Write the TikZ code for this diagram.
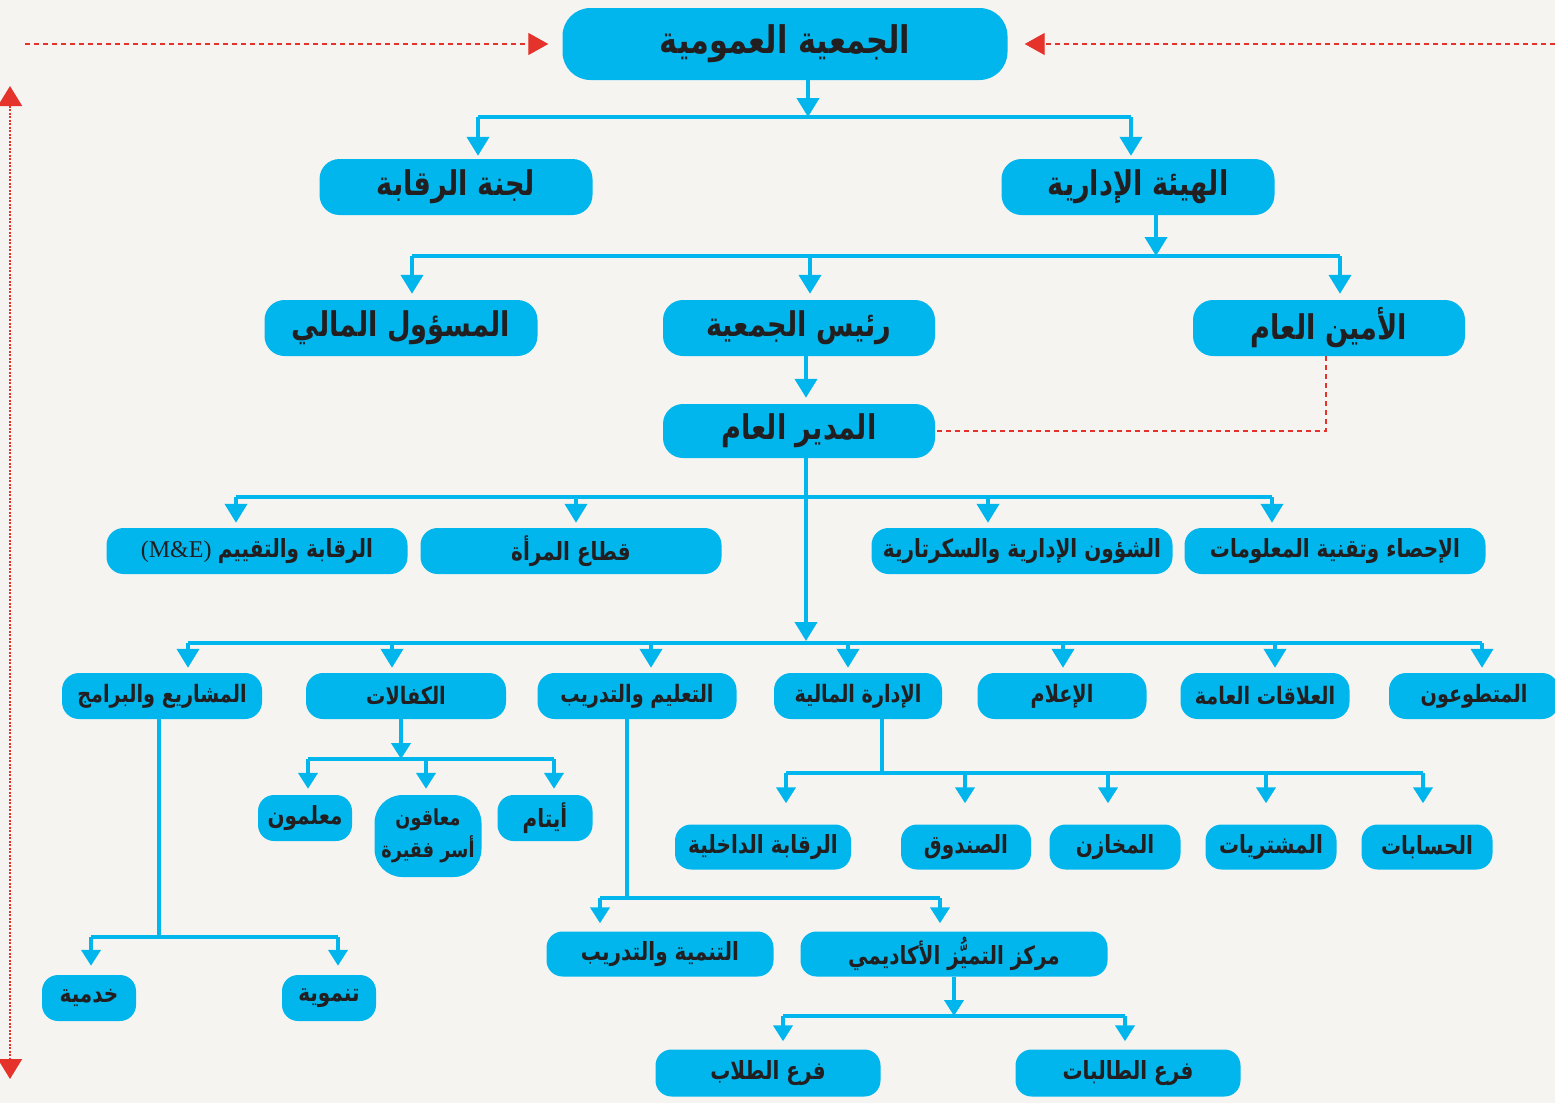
\documentclass[tikz,border=0pt]{standalone}
\usepackage{fontspec}
\usetikzlibrary{arrows.meta}
\TeXXeTstate=1
\setmainfont{Liberation Serif}
\newfontfamily\arabicfont[Script=Arabic,FakeStretch=0.8]{DejaVu Sans}
\newcommand{\ar}[1]{{\arabicfont\bfseries\beginR #1\endR}}

\definecolor{orgblue}{HTML}{00B6EC}
\definecolor{orgred}{HTML}{E5322B}
\definecolor{paper}{HTML}{F5F4F1}
\definecolor{ink}{HTML}{231F20}

\tikzset{
    box/.style={fill=orgblue, text=ink, inner sep=0pt, rounded corners=20pt,
        minimum height=56, font=\fontsize{34}{38}\selectfont},
    midbox/.style={box, rounded corners=17pt, minimum height=46,
        font=\fontsize{25}{29}\selectfont},
    deptbox/.style={midbox, font=\fontsize{24}{28}\selectfont},
    subbox/.style={box, rounded corners=16pt, minimum height=45,
        font=\fontsize{25}{29}\selectfont},
    bar/.style={orgblue, line width=4pt},
    arr/.style={bar, -{Triangle[width=22pt,length=19pt]}},
    subarr/.style={bar, -{Triangle[width=19pt,length=16pt]}},
    reddash/.style={orgred, line width=1.2pt, dash pattern=on 5pt off 4pt},
    redtip/.style={-{Triangle[width=22pt,length=20pt]}}
}

\begin{document}
\begin{tikzpicture}[x=1pt, y=-1pt]

    % paper
    \fill[paper] (0,0) rectangle (1555,1103);
    \useasboundingbox (0,0) rectangle (1555,1103);

    % Top levels
    \node[box, minimum width=445, minimum height=72, rounded corners=28pt,
        font=\fontsize{38}{42}\selectfont] (ga) at (785,44) {\ar{الجمعية العمومية}};
    \node[box, minimum width=273] (lajna) at (456,187) {\ar{لجنة الرقابة}};
    \node[box, minimum width=273] (haia) at (1138,187) {\ar{الهيئة الإدارية}};
    \node[box, minimum width=273] (mali) at (401,328) {\ar{المسؤول المالي}};
    \node[box, minimum width=272] (rais) at (799,328) {\ar{رئيس الجمعية}};
    \node[box, minimum width=272] (amin) at (1329,328) {\ar{الأمين العام}};
    \node[box, minimum width=272, minimum height=54] (mudir) at (799,431) {\ar{المدير العام}};

    % Units under the director
    \node[midbox, minimum width=301] (mne) at (257,551)
        {{\fontsize{24}{27}\selectfont\rmfamily (M\&E)}\ \ar{الرقابة والتقييم}};
    \node[midbox, minimum width=301] (marah) at (571,551) {\ar{قطاع المرأة}};
    \node[midbox, minimum width=301] (shuun) at (1022,551) {\ar{الشؤون الإدارية والسكرتارية}};
    \node[midbox, minimum width=301] (ihsa) at (1335,551) {\ar{الإحصاء وتقنية المعلومات}};

    % Departments
    \node[deptbox, minimum width=200] (mashari) at (162,696) {\ar{المشاريع والبرامج}};
    \node[deptbox, minimum width=200] (kafalat) at (406,696) {\ar{الكفالات}};
    \node[deptbox, minimum width=199] (talim) at (637,696) {\ar{التعليم والتدريب}};
    \node[deptbox, minimum width=168] (idara) at (858,696) {\ar{الإدارة المالية}};
    \node[deptbox, minimum width=169] (ilam) at (1062,696) {\ar{الإعلام}};
    \node[deptbox, minimum width=169] (alaqat) at (1265,696) {\ar{العلاقات العامة}};
    \node[deptbox, minimum width=170] (mutatawi) at (1474,696) {\ar{المتطوعون}};

    % Sponsorships
    \node[subbox, minimum width=94, minimum height=46] (muallim) at (305,818) {\ar{معلمون}};
    \node[subbox, minimum width=107, minimum height=82, rounded corners=28pt,
        align=center, font=\fontsize{22}{32}\selectfont] (muaq) at (428,836)
        {\ar{معاقون}\\\ar{أسر فقيرة}};
    \node[subbox, minimum width=95, minimum height=46] (aytam) at (545,818) {\ar{أيتام}};

    % Finance
    \node[subbox, minimum width=176] (raqdakh) at (763,847) {\ar{الرقابة الداخلية}};
    \node[subbox, minimum width=130] (sunduq) at (966,847) {\ar{الصندوق}};
    \node[subbox, minimum width=131] (makhazin) at (1115,847) {\ar{المخازن}};
    \node[subbox, minimum width=131] (mushtar) at (1271,847) {\ar{المشتريات}};
    \node[subbox, minimum width=131] (hisabat) at (1427,847) {\ar{الحسابات}};

    % Training
    \node[subbox, minimum width=227] (tanmiya) at (660,954) {\ar{التنمية والتدريب}};
    \node[subbox, minimum width=307] (markaz) at (954,954) {\ar{مركز التميُّز الأكاديمي}};
    \node[subbox, minimum width=225, minimum height=47] (tullab) at (768,1073) {\ar{فرع الطلاب}};
    \node[subbox, minimum width=225, minimum height=47] (talibat) at (1128,1073) {\ar{فرع الطالبات}};

    % Projects
    \node[subbox, minimum width=94, minimum height=46] (khadam) at (89,998) {\ar{خدمية}};
    \node[subbox, minimum width=94, minimum height=46] (tanmawi) at (329,998) {\ar{تنموية}};

    % Blue connectors
    \draw[arr] (808,0 |- ga.south) -- (808,117);
    \draw[bar] (478,117) -- (1131,117);
    \foreach \x/\n in {478/lajna, 1131/haia}
        \draw[arr, shorten >=3pt] (\x,117) -- (\x,0 |- \n.north);

    \draw[arr] (1156,0 |- haia.south) -- (1156,256);
    \draw[bar] (412,256) -- (1340,256);
    \foreach \x/\n in {412/mali, 810/rais, 1340/amin}
        \draw[arr, shorten >=6pt] (\x,256) -- (\x,0 |- \n.north);

    \draw[arr, shorten >=6pt] (806,0 |- rais.south) -- (806,0 |- mudir.north);

    \draw[arr] (806,0 |- mudir.south) -- (806,641);
    \draw[bar] (236,497) -- (1272,497);
    \foreach \x/\n in {236/mne, 576/marah, 988/shuun, 1272/ihsa}
        \draw[arr, shorten >=5pt] (\x,497) -- (\x,0 |- \n.north);

    \draw[bar] (188,643) -- (1482,643);
    \foreach \x/\n in {188/mashari, 392/kafalat, 651/talim, 848/idara, 1063/ilam, 1275/alaqat, 1482/mutatawi}
        \draw[arr, shorten >=5pt] (\x,643) -- (\x,0 |- \n.north);

    % Sponsorship branch
    \draw[subarr] (401,0 |- kafalat.south) -- (401,759);
    \draw[bar] (308,759) -- (554,759);
    \foreach \x/\n in {308/muallim, 426/muaq, 554/aytam}
        \draw[subarr, shorten >=6pt] (\x,759) -- (\x,0 |- \n.north);

    % Finance branch
    \draw[bar] (882,0 |- idara.south) -- (882,773);
    \draw[bar] (786,773) -- (1423,773);
    \foreach \x/\n in {786/raqdakh, 965/sunduq, 1108/makhazin, 1266/mushtar, 1423/hisabat}
        \draw[subarr, shorten >=21pt] (\x,773) -- (\x,0 |- \n.north);

    % Training branch
    \draw[bar] (627,0 |- talim.south) -- (627,898);
    \draw[bar] (600,898) -- (940,898);
    \foreach \x/\n in {600/tanmiya, 940/markaz}
        \draw[subarr, shorten >=8pt] (\x,898) -- (\x,0 |- \n.north);
    \draw[subarr] (954,0 |- markaz.south) -- (954,1016);
    \draw[bar] (783,1016) -- (1125,1016);
    \foreach \x/\n in {783/tullab, 1125/talibat}
        \draw[subarr, shorten >=8pt] (\x,1016) -- (\x,0 |- \n.north);

    % Projects branch
    \draw[bar] (159,0 |- mashari.south) -- (159,937);
    \draw[bar] (91,937) -- (338,937);
    \foreach \x/\n in {91/khadam, 338/tanmawi}
        \draw[subarr, shorten >=9pt] (\x,937) -- (\x,0 |- \n.north);

    % Red links
    \coordinate (lend) at (25,44);
    \coordinate (rend) at (1555,44);
    \coordinate (vtop) at (10,86);
    \coordinate (vbot) at (10,1079);
    \draw[reddash, redtip, shorten >=14pt] (lend) -- (ga.west);
    \draw[reddash, redtip, shorten >=17pt] (rend) -- (ga.east);
    \draw[orgred, line width=1.8pt, dash pattern=on 2pt off 1.5pt,
        {Triangle[width=24pt,length=20pt]}-{Triangle[width=24pt,length=20pt]}] (vtop) -- (vbot);
    \draw[reddash] (1326,0 |- amin.south) |- ([xshift=2pt]mudir.east);

\end{tikzpicture}
\end{document}
